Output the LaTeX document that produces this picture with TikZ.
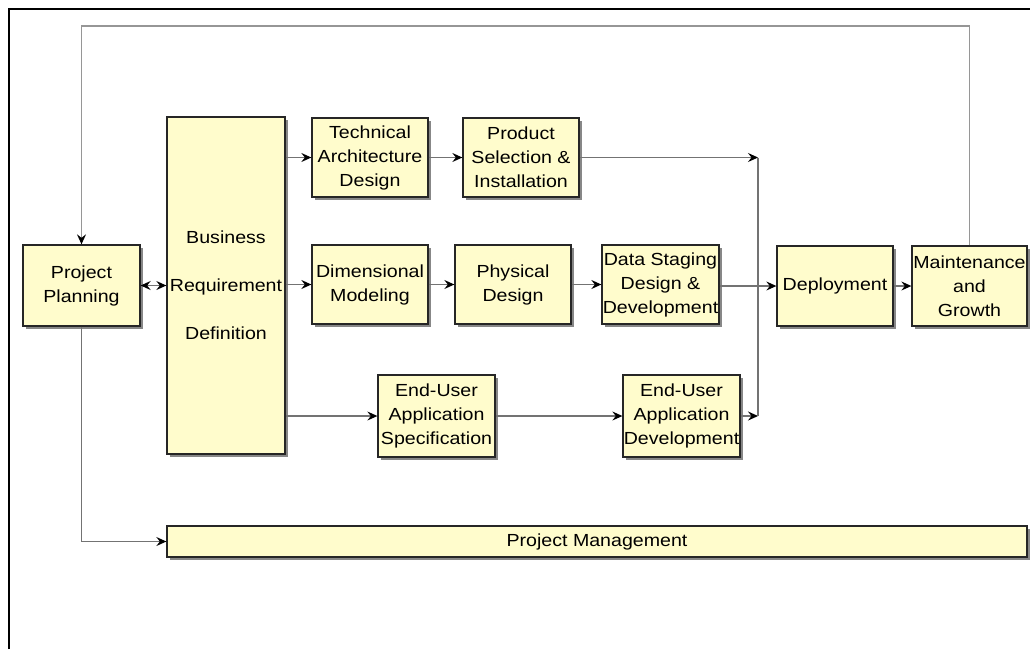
\documentclass[tikz,border=0pt]{standalone}
\usepackage{fontspec}
\setmainfont{Liberation Sans}[FakeStretch=1.12]
\usetikzlibrary{arrows.meta,shadows}
\definecolor{boxfill}{RGB}{255,252,204}
\definecolor{linegray}{RGB}{115,115,115}
\definecolor{loopgray}{RGB}{150,150,150}
\definecolor{shadowgray}{RGB}{135,135,135}
\begin{document}
\begin{tikzpicture}[x=1pt,y=-1pt,
  blk/.style={draw=black!85, line width=1.3pt, fill=boxfill, align=center, inner sep=0pt,
    font=\fontsize{17.5}{24}\selectfont,
    drop shadow={shadow xshift=2.5pt, shadow yshift=-2.5pt, fill=shadowgray, opacity=1}},
  conn/.style={draw=linegray, line width=1.3pt},
  tip/.style={-{Stealth[length=10pt,width=9pt,inset=3.5pt,color=black]}},
  arr/.style={conn, tip},
  dbl/.style={conn, {Stealth[length=10pt,width=9pt,inset=3.5pt,color=black]}-{Stealth[length=10pt,width=9pt,inset=3.5pt,color=black]}},
]
\useasboundingbox (0,0) rectangle (1030,649);
\fill[white] (0,0) rectangle (1030,649);
% outer frame (top and left edges)
\draw[line width=2.2pt, black] (9,649) -- (9,9) -- (1030,9);

% boxes
\node[blk, minimum width=117pt, minimum height=81pt] (PP) at (81.5,285.5) {Project\\Planning};
\node[blk, minimum width=118pt, minimum height=337pt] (BRD) at (226,285.5) {Business\\[24pt]Requirement\\[24pt]Definition};
\node[blk, minimum width=116pt, minimum height=79pt] (TAD) at (370,157.5) {Technical\\Architecture\\Design};
\node[blk, minimum width=116pt, minimum height=79pt] (PS) at (521,157.5) {Product\\Selection \&\\Installation};
\node[blk, minimum width=116pt, minimum height=79pt] (DM) at (370,284.5) {Dimensional\\Modeling};
\node[blk, minimum width=116pt, minimum height=79pt] (PD) at (513,284.5) {Physical\\Design};
\node[blk, minimum width=117pt, minimum height=79pt] (DSD) at (660.5,284.5) {Data Staging\\Design \&\\Development};
\node[blk, minimum width=116pt, minimum height=80pt] (DEP) at (835,286) {Deployment};
\node[blk, minimum width=115pt, minimum height=80pt] (MG) at (969.5,286) {Maintenance\\and\\Growth};
\node[blk, minimum width=117pt, minimum height=82pt] (EUAS) at (436.5,416) {End-User\\Application\\Specification};
\node[blk, minimum width=117pt, minimum height=82pt] (EUAD) at (681.5,416) {End-User\\Application\\Development};
\node[blk, minimum width=860pt, minimum height=31pt] (PM) at (597,541.5) {Project Management};

% bus coordinates
\coordinate (busT) at (758,157.5);
\coordinate (busB) at (758,416);
\coordinate (loopR) at (969.5,26);
\coordinate (loopL) at (81.5,26);

% connectors
\draw[conn, draw=loopgray, tip] (MG.north) -- (loopR) -- (loopL) -- (PP.north);
\draw[dbl] (PP.east) -- (BRD.west);
\draw[arr] (BRD.east |- TAD) -- (TAD.west);
\draw[arr] (TAD.east) -- (PS.west);
\draw[arr] (PS.east) -- (busT);
\draw[arr] (BRD.east |- DM) -- (DM.west);
\draw[arr] (DM.east) -- (PD.west);
\draw[arr] (PD.east) -- (DSD.west);
\draw[arr] (DSD.east |- DEP) -- (DEP.west);
\draw[arr] (DEP.east) -- (MG.west);
\draw[arr] (BRD.east |- EUAS) -- (EUAS.west);
\draw[arr] (EUAS.east) -- (EUAD.west);
\draw[arr] (EUAD.east) -- (busB);
\draw[conn] (busT) -- (busB);
\draw[arr] (PP.south) |- (PM.west);
\end{tikzpicture}
\end{document}
